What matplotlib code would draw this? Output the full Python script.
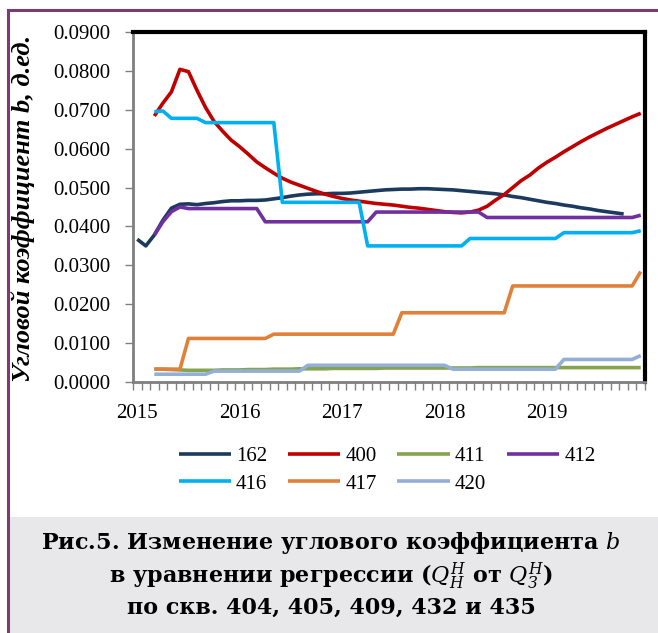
import numpy as np
import matplotlib
matplotlib.use("Agg")
import matplotlib.pyplot as plt
from matplotlib.lines import Line2D
from matplotlib.patches import Rectangle

nan = np.nan

# monthly values, Jan 2015 .. Dec 2019 (one row per year)
s162 = [0.0367, 0.0350, 0.0378, 0.0416, 0.0447, 0.0457, 0.0458, 0.0456, 0.0459, 0.0461, 0.0464, 0.0466,
        0.0466, 0.0467, 0.0467, 0.0468, 0.0471, 0.0474, 0.0478, 0.0481, 0.0483, 0.0484, 0.0484, 0.0485,
        0.0485, 0.0486, 0.0488, 0.0490, 0.0492, 0.0494, 0.0495, 0.0496, 0.0496, 0.0497, 0.0497, 0.0496,
        0.0495, 0.0494, 0.0492, 0.0490, 0.0488, 0.0486, 0.0484, 0.0481, 0.0477, 0.0474, 0.0470, 0.0466,
        0.0462, 0.0459, 0.0455, 0.0452, 0.0448, 0.0445, 0.0441, 0.0438, 0.0435, 0.0432, nan, nan]
s400 = [nan, nan, 0.0684, 0.0717, 0.0746, 0.0804, 0.0798, 0.0750, 0.0706, 0.0670, 0.0645, 0.0622,
        0.0605, 0.0586, 0.0566, 0.0551, 0.0537, 0.0524, 0.0514, 0.0506, 0.0498, 0.0490, 0.0483, 0.0477,
        0.0472, 0.0468, 0.0465, 0.0462, 0.0459, 0.0457, 0.0455, 0.0452, 0.0449, 0.0447, 0.0444, 0.0441,
        0.0438, 0.0436, 0.0435, 0.0437, 0.0442, 0.0452, 0.0468, 0.0482, 0.0500, 0.0518, 0.0532, 0.0550,
        0.0565, 0.0578, 0.0592, 0.0605, 0.0618, 0.0630, 0.0641, 0.0652, 0.0662, 0.0672, 0.0682, 0.0691]
s411 = [nan, nan, 0.0033, 0.0033, 0.0032, 0.0031, 0.0030, 0.0030, 0.0030, 0.0030, 0.0031, 0.0031,
        0.0031, 0.0032, 0.0032, 0.0032, 0.0033, 0.0033, 0.0033, 0.0034, 0.0034, 0.0034, 0.0034, 0.0035,
        0.0035, 0.0035, 0.0035, 0.0035, 0.0035, 0.0036, 0.0036, 0.0036, 0.0036, 0.0036, 0.0036, 0.0036,
        0.0036, 0.0036, 0.0036, 0.0036, 0.0037, 0.0037, 0.0037, 0.0037, 0.0037, 0.0037, 0.0037, 0.0037,
        0.0037, 0.0037, 0.0037, 0.0037, 0.0037, 0.0037, 0.0037, 0.0037, 0.0037, 0.0037, 0.0037, 0.0037]
s412 = [nan, nan, 0.0378, 0.0412, 0.0438, 0.0450, 0.0446, 0.0446, 0.0446, 0.0446, 0.0446, 0.0446,
        0.0446, 0.0446, 0.0446, 0.0412, 0.0412, 0.0412, 0.0412, 0.0412, 0.0412, 0.0412, 0.0412, 0.0412,
        0.0412, 0.0412, 0.0412, 0.0412, 0.0437, 0.0437, 0.0437, 0.0437, 0.0437, 0.0437, 0.0437, 0.0437,
        0.0437, 0.0437, 0.0437, 0.0437, 0.0437, 0.0423, 0.0423, 0.0423, 0.0423, 0.0423, 0.0423, 0.0423,
        0.0423, 0.0423, 0.0423, 0.0423, 0.0423, 0.0423, 0.0423, 0.0423, 0.0423, 0.0423, 0.0423, 0.0429]
s416 = [nan, nan, 0.0695, 0.0697, 0.0678, 0.0678, 0.0678, 0.0678, 0.0667, 0.0667, 0.0667, 0.0667,
        0.0667, 0.0667, 0.0667, 0.0667, 0.0667, 0.0462, 0.0462, 0.0462, 0.0462, 0.0462, 0.0462, 0.0462,
        0.0462, 0.0462, 0.0462, 0.0350, 0.0350, 0.0350, 0.0350, 0.0350, 0.0350, 0.0350, 0.0350, 0.0350,
        0.0350, 0.0350, 0.0350, 0.0369, 0.0369, 0.0369, 0.0369, 0.0369, 0.0369, 0.0369, 0.0369, 0.0369,
        0.0369, 0.0369, 0.0384, 0.0384, 0.0384, 0.0384, 0.0384, 0.0384, 0.0384, 0.0384, 0.0384, 0.0389]
s417 = [nan, nan, 0.0033, 0.0033, 0.0033, 0.0033, 0.0112, 0.0112, 0.0112, 0.0112, 0.0112, 0.0112,
        0.0112, 0.0112, 0.0112, 0.0112, 0.0123, 0.0123, 0.0123, 0.0123, 0.0123, 0.0123, 0.0123, 0.0123,
        0.0123, 0.0123, 0.0123, 0.0123, 0.0123, 0.0123, 0.0123, 0.0178, 0.0178, 0.0178, 0.0178, 0.0178,
        0.0178, 0.0178, 0.0178, 0.0178, 0.0178, 0.0178, 0.0178, 0.0178, 0.0247, 0.0247, 0.0247, 0.0247,
        0.0247, 0.0247, 0.0247, 0.0247, 0.0247, 0.0247, 0.0247, 0.0247, 0.0247, 0.0247, 0.0247, 0.0284]
s420 = [nan, nan, 0.0020, 0.0020, 0.0020, 0.0020, 0.0020, 0.0020, 0.0020, 0.0028, 0.0028, 0.0028,
        0.0028, 0.0028, 0.0028, 0.0028, 0.0028, 0.0028, 0.0028, 0.0028, 0.0043, 0.0043, 0.0043, 0.0043,
        0.0043, 0.0043, 0.0043, 0.0043, 0.0043, 0.0043, 0.0043, 0.0043, 0.0043, 0.0043, 0.0043, 0.0043,
        0.0043, 0.0033, 0.0033, 0.0033, 0.0033, 0.0033, 0.0033, 0.0033, 0.0033, 0.0033, 0.0033, 0.0033,
        0.0033, 0.0033, 0.0058, 0.0058, 0.0058, 0.0058, 0.0058, 0.0058, 0.0058, 0.0058, 0.0058, 0.0068]

labels = ["162", "400", "411", "412", "416", "417", "420"]
colors = ["#1B3A5E", "#C00000", "#86A34E", "#7030A0", "#00B0F0", "#E0813A", "#93AFD6"]
years = ["2015", "2016", "2017", "2018", "2019"]
y_ticks = [0.0, 0.01, 0.02, 0.03, 0.04, 0.05, 0.06, 0.07, 0.08, 0.09]

serif = "Liberation Serif"
plt.rcParams["font.family"] = serif
plt.rcParams["mathtext.fontset"] = "custom"
plt.rcParams["mathtext.rm"] = "DejaVu Serif"
plt.rcParams["mathtext.it"] = "DejaVu Serif:italic"
plt.rcParams["mathtext.bf"] = "DejaVu Serif:bold"

fig = plt.figure(figsize=(6.58, 6.33), dpi=100)
W, H = 658, 633

# outer frame and caption box
fig.patches.append(Rectangle((9 / W, 0), 1 - 9 / W, 1 - 517 / H, transform=fig.transFigure,
                             facecolor="#E8E8EB", edgecolor="none", zorder=0))
frame = "#7E3B72"
fig.lines.append(Line2D([8 / W, 8 / W], [0, 1 - 10 / H], transform=fig.transFigure, color=frame, lw=2.2))
fig.lines.append(Line2D([8 / W, 1], [1 - 10 / H, 1 - 10 / H], transform=fig.transFigure, color=frame, lw=2.2))

ax = fig.add_axes([133 / W, 1 - 382 / H, 512 / W, 350 / H])
months = np.arange(len(s162))
series = [s162, s400, s411, s412, s416, s417, s420]
lines = []
for vals, lab, col in zip(series, labels, colors):
    ln, = ax.plot(months, vals, color=col, lw=2.6, label=lab, solid_capstyle="butt")
    lines.append(ln)

ax.set_xlim(-0.5, len(months) - 0.5)
ax.set_ylim(0, 0.09)
ax.set_yticks(y_ticks)
ax.set_yticklabels([f"{v:.4f}" for v in y_ticks], fontsize=15)
ax.set_xticks(np.arange(0, 60, 12))
ax.set_xticklabels(years, fontsize=15)
ax.set_xticks(np.arange(-0.5, 60, 1), minor=True)
ax.tick_params(axis="x", which="major", length=0, pad=16)
ax.tick_params(axis="x", which="minor", length=6, width=1, color="#808080", direction="out")
ax.tick_params(axis="y", length=6, width=1, color="#808080", pad=10)

for side in ("top", "right"):
    ax.spines[side].set_color("black")
    ax.spines[side].set_linewidth(3)
for side in ("left", "bottom"):
    ax.spines[side].set_color("#7F7F7F")
    ax.spines[side].set_linewidth(2)

fig.text(23 / W, 1 - 208 / H, "Угловой коэффициент b, д.ед.", rotation=90, ha="center", va="center",
         fontsize=19, fontweight="bold", fontstyle="italic")

# legend filled row by row (matplotlib fills by column)
order = [0, 4, 1, 5, 2, 6, 3]
fig.legend([lines[i] for i in order], [labels[i] for i in order], loc="center",
           bbox_to_anchor=(387 / W, 1 - 470 / H), ncol=4, frameon=False, fontsize=15,
           handlelength=2.5, handletextpad=0.25, columnspacing=1.0, labelspacing=0.4)

cap = dict(ha="center", va="center", fontsize=16, fontweight="bold", family="DejaVu Serif")
fig.text(331 / W, 1 - 543 / H, r"Рис.5. Изменение углового коэффициента $\mathit{b}$", **cap)
fig.text(331 / W, 1 - 576 / H, r"в уравнении регрессии ($\mathit{Q}_{\mathit{Н}}^{\mathit{Н}}$ от $\mathit{Q}_{\mathit{З}}^{\mathit{Н}}$)", **cap)
fig.text(331 / W, 1 - 608 / H, "по скв. 404, 405, 409, 432 и 435", **cap)

fig.savefig("out.png", dpi=100)
